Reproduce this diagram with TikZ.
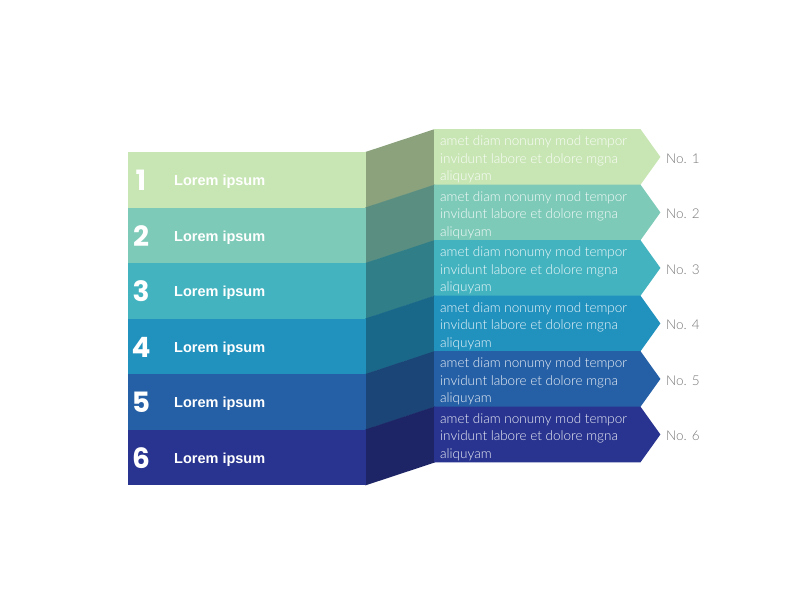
\documentclass[tikz,border=0pt]{standalone}
\usepackage{fontspec}
\setmainfont{Liberation Sans}
\newfontfamily\numfont{Poppins}
\newfontfamily\lightfont{Lato Light}
\usetikzlibrary{calc}
\definecolor{c1}{HTML}{C8E6B4}
\definecolor{c2}{HTML}{7ECAB8}
\definecolor{c3}{HTML}{43B3C0}
\definecolor{c4}{HTML}{2191BE}
\definecolor{c5}{HTML}{255FA5}
\definecolor{c6}{HTML}{28348F}
\definecolor{d1}{HTML}{8BA27D}
\definecolor{d2}{HTML}{5A8E81}
\definecolor{d3}{HTML}{2F7E88}
\definecolor{d4}{HTML}{1A6889}
\definecolor{d5}{HTML}{1C4577}
\definecolor{d6}{HTML}{1E2566}
\definecolor{nogray}{HTML}{767676}
\begin{document}
\begin{tikzpicture}[x=1pt,y=-1pt,
  band/.style={rectangle,inner sep=0pt,minimum width=238pt,minimum height=55.5pt,anchor=north west},
  rband/.style={rectangle,inner sep=0pt,minimum width=206pt,minimum height=55.5pt,anchor=north west},
  numlabel/.style={text=white,font=\numfont\bfseries\fontsize{28}{28}\selectfont,inner sep=0pt,anchor=base},
  lorem/.style={text=white,font=\bfseries\fontsize{14.5}{16}\selectfont,inner sep=0pt,anchor=base west},
  body/.style={text=white,text opacity=0.92,font=\lightfont\fontsize{13.5}{17.5}\selectfont,inner sep=0pt,align=left,anchor=west},
  nolabel/.style={text=nogray,font=\lightfont\fontsize{13.5}{15}\selectfont,inner sep=0pt,anchor=west}]
\useasboundingbox (0,0) rectangle (800,600);
\foreach \i in {1,...,6} {
  \pgfmathsetmacro\lt{152+(\i-1)*55.5}
  \pgfmathsetmacro\rt{129+(\i-1)*55.5}
  \node[band] (L\i) at (128,\lt) {};
  \node[rband] (R\i) at (434,\rt) {};
  \fill[d\i] ($(L\i.north east)+(-1,0)$) -- ($(R\i.north west)+(1,0)$) -- ($(R\i.south west)+(1,0)$) -- ($(L\i.south east)+(-1,0)$) -- cycle;
  \fill[c\i] (L\i.north west) rectangle (L\i.south east);
  \fill[c\i] (R\i.north west) -- (R\i.north east) -- ($(R\i.east)+(20,0)$) -- (R\i.south east) -- (R\i.south west) -- cycle;
  \node[numlabel] (N\i) at (141,\lt+38.5) {\i};
  \node[lorem] (T\i) at (174,\lt+33.5) {Lorem ipsum};
  \node[body] (B\i) at (440,\rt+30.5) {amet diam nonumy mod tempor\\invidunt labore et dolore mgna\\aliquyam};
  \node[nolabel] (No\i) at (666,\rt+29.5) {No. \i};
}
\end{tikzpicture}
\end{document}
